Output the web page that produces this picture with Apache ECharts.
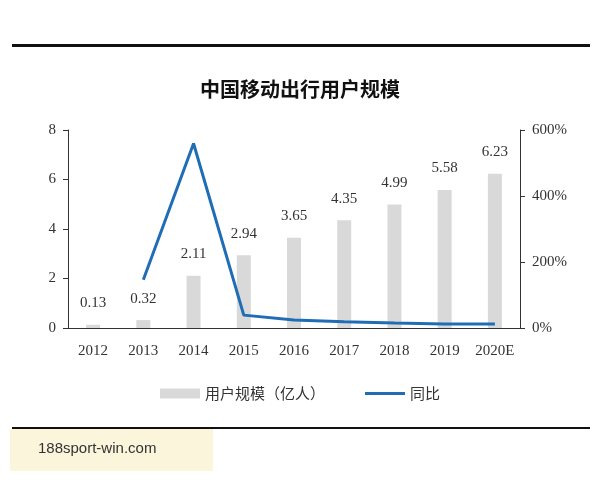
<!DOCTYPE html>
<html>
<head>
<meta charset="utf-8">
<script src="https://cdn.jsdelivr.net/npm/echarts@6/dist/echarts.min.js"></script>
<style>html,body{margin:0;padding:0;background:#fff}#main{width:600px;height:480px}</style>
</head>
<body>
<div id="main"></div>
<script>
// datos de la grafica
var years = ['2012', '2013', '2014', '2015', '2016', '2017', '2018', '2019', '2020E'];
var users = [0.13, 0.32, 2.11, 2.94, 3.65, 4.35, 4.99, 5.58, 6.23];
var yoy = [null, 146, 559, 39, 24, 19, 15, 12, 12];

var chart = echarts.init(document.getElementById('main'));
var font = '"Liberation Serif", "Noto Sans CJK SC", serif';

chart.setOption({
    animation: false,
    textStyle: { fontFamily: font },
    title: {
        text: '中国移动出行用户规模', left: 'center', top: 74,
        textStyle: { fontSize: 20, fontWeight: 'bold', color: '#111', fontFamily: '"Noto Sans CJK SC", sans-serif' }
    },
    legend: {
        bottom: 74, left: 'center', itemGap: 40, itemWidth: 40, itemHeight: 10,
        textStyle: { fontSize: 15, color: '#333', fontFamily: '"Noto Sans CJK SC", sans-serif' },
        data: [{ name: '用户规模（亿人）', icon: 'rect' }, { name: '同比', icon: 'path://M0,4L40,4L40,7L0,7Z' }]
    },
    grid: { left: 68, right: 80, top: 130, bottom: 152 },
    xAxis: {
        type: 'category', data: years,
        axisLine: { lineStyle: { color: '#333' } },
        axisTick: { show: false },
        axisLabel: { fontSize: 15, color: '#333', margin: 16, interval: 0 }
    },
    yAxis: [{
        type: 'value', min: 0, max: 8, interval: 2,
        axisLine: { show: true, lineStyle: { color: '#333' } },
        axisTick: { show: true, inside: false },
        splitLine: { show: false },
        axisLabel: { fontSize: 15, color: '#333', margin: 12 }
    }, {
        type: 'value', min: 0, max: 600, interval: 200,
        axisLine: { show: true, lineStyle: { color: '#333' } },
        axisTick: { show: true },
        splitLine: { show: false },
        axisLabel: { fontSize: 15, color: '#333', formatter: '{value}%', margin: 12 }
    }],
    series: [{
        name: '用户规模（亿人）', type: 'bar', data: users, barWidth: 14,
        itemStyle: { color: '#d9d9d9' },
        label: { show: true, position: 'top', distance: 14, fontSize: 15, color: '#333' }
    }, {
        name: '同比', type: 'line', yAxisIndex: 1, data: yoy,
        symbol: 'none', lineStyle: { color: '#1f6db5', width: 3 }, itemStyle: { color: '#1f6db5' }
    }],
    graphic: [
        { type: 'rect', shape: { x: 12, y: 44, width: 578, height: 3 }, style: { fill: '#111' } },
        { type: 'rect', shape: { x: 12, y: 427, width: 578, height: 2 }, style: { fill: '#111' } },
        { type: 'rect', shape: { x: 10, y: 429, width: 203, height: 42 }, style: { fill: '#fbf5dc' } },
        { type: 'text', left: 38, top: 441, style: { text: '188sport-win.com', fontSize: 15, fill: '#333', fontFamily: 'Liberation Sans, sans-serif' } }
    ]
});
</script>
</body>
</html>
